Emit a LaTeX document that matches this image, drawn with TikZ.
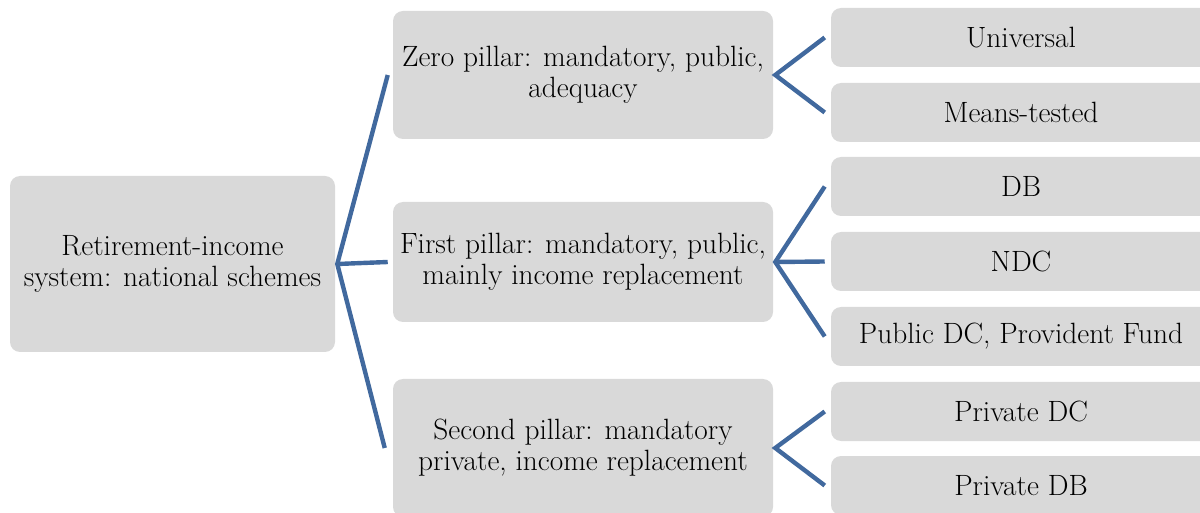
\documentclass[tikz,border=0pt]{standalone}
\definecolor{boxfill}{RGB}{217,217,217}
\definecolor{linkblue}{RGB}{65,105,158}
\tikzset{
  gbox/.style={fill=boxfill, draw=none, rounded corners=7.5pt, inner sep=0pt, align=center,
    font=\fontsize{22pt}{23.25pt}\selectfont},
  link/.style={draw=linkblue, line width=3.3pt, line join=miter}
}
\begin{document}
\begin{tikzpicture}[x=0.75pt,y=-0.75pt]
\useasboundingbox (0,0) rectangle (1200,513);
\clip (0,0) rectangle (1200,513);
% root
\node[gbox, minimum width=243.75pt, minimum height=132pt] (root) at (172.5,264) {Retirement-income\\system: national schemes};
% middle
\node[gbox, minimum width=285pt, minimum height=96pt] (zero) at (583,75) {Zero pillar: mandatory, public,\\adequacy};
\node[gbox, minimum width=285pt, minimum height=90pt] (first) at (583,262) {First pillar: mandatory, public,\\mainly income replacement};
\node[gbox, minimum width=285pt, minimum height=103.5pt] (second) at (583,448) {Second pillar: mandatory\\private, income replacement};
% leaves
\node[gbox, minimum width=285pt, minimum height=44.25pt] (univ) at (1021,37.5) {Universal};
\node[gbox, minimum width=285pt, minimum height=44.25pt] (means) at (1021,112.5) {Means-tested};
\node[gbox, minimum width=285pt, minimum height=44.25pt] (db) at (1021,186.5) {DB};
\node[gbox, minimum width=285pt, minimum height=44.25pt] (ndc) at (1021,261.5) {NDC};
\node[gbox, minimum width=285pt, minimum height=44.25pt] (pubdc) at (1021,336.5) {Public DC, Provident Fund};
\node[gbox, minimum width=285pt, minimum height=44.25pt] (privdc) at (1021,411.5) {Private DC};
\node[gbox, minimum width=285pt, minimum height=44.25pt] (privdb) at (1021,485.5) {Private DB};
% connectors root
\path ([xshift=1.5pt]root.east) coordinate (r0);
\draw[link] ([xshift=-3.75pt]zero.west) -- (r0) -- ([xshift=-6pt]second.west);
\draw[link] (r0) -- ([xshift=-3.75pt]first.west);
% zero fan
\path ([xshift=1.5pt]zero.east) coordinate (z0);
\draw[link] ([xshift=-4.5pt]univ.west) -- (z0) -- ([xshift=-4.5pt]means.west);
% first fan
\path ([xshift=1.5pt]first.east) coordinate (f0);
\draw[link] ([xshift=-4.5pt]db.west) -- (f0) -- ([xshift=-4.5pt]pubdc.west);
\draw[link] (f0) -- ([xshift=-4.5pt]ndc.west);
% second fan
\path ([xshift=1.5pt]second.east) coordinate (s0);
\draw[link] ([xshift=-4.5pt]privdc.west) -- (s0) -- ([xshift=-4.5pt]privdb.west);
\end{tikzpicture}
\end{document}
